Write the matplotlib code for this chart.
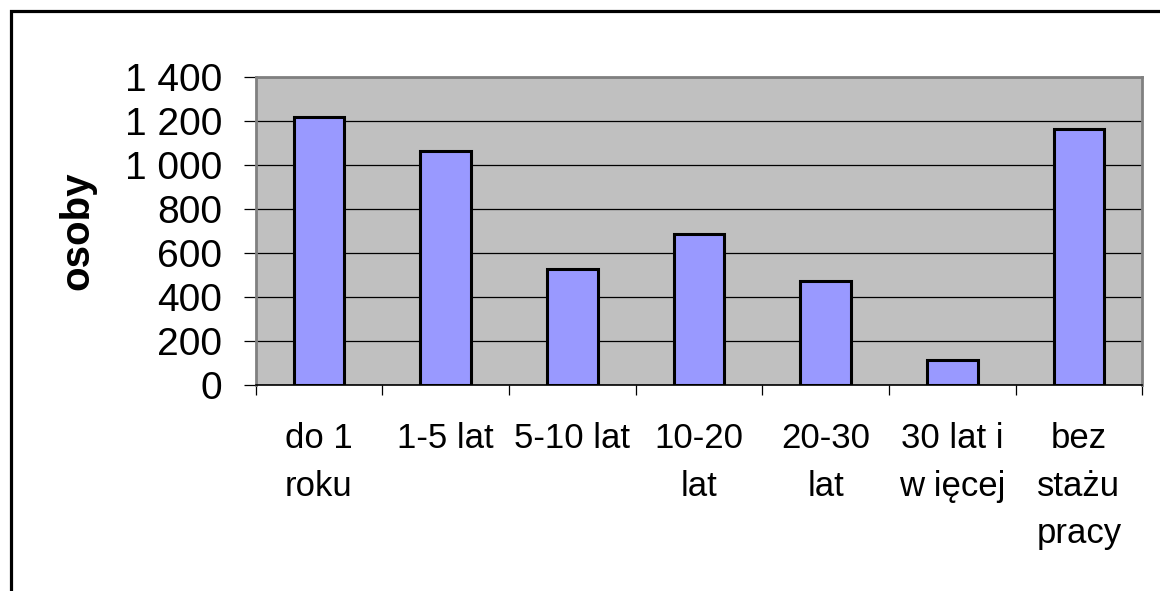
import matplotlib
matplotlib.use("Agg")
import matplotlib.pyplot as plt
from matplotlib.patches import Rectangle
import numpy as np

plt.rcParams['font.family'] = ['Liberation Sans', 'DejaVu Sans']

categories = ["do 1\nroku", "1-5 lat", "5-10 lat", "10-20\nlat", "20-30\nlat", "30 lat i\nw ięcej", "bez\nstażu\npracy"]
values = [1220, 1063, 530, 689, 473, 113, 1165]
yticks = [0, 200, 400, 600, 800, 1000, 1200, 1400]
ytick_labels = ["0", "200", "400", "600", "800", "1 000", "1 200", "1 400"]
ylabel = "osoby"

fig = plt.figure(figsize=(11.6, 5.91), dpi=100)
fig.patch.set_facecolor("white")
ax = fig.add_axes([255.5/1160, 1-385/591, (1142.3-255.5)/1160, (385-77.3)/591])
ax.set_facecolor("#C0C0C0")

x = np.arange(len(categories))
ax.bar(x, values, width=0.4, color="#9999FF", edgecolor="black", linewidth=2.2, zorder=3)

ax.set_xlim(-0.5, len(categories) - 0.5)
ax.set_ylim(0, 1400)
ax.set_yticks(yticks)
ax.set_yticklabels(ytick_labels, fontsize=28)
ax.yaxis.grid(True, color="black", linewidth=0.9, zorder=1)
ax.set_axisbelow(True)

# boundary ticks (major, no labels), labels at centers (minor)
ax.set_xticks(np.arange(-0.5, len(categories) + 0.5, 1.0))
ax.set_xticklabels([])
ax.set_xticks(x, minor=True)
ax.set_xticklabels(categories, minor=True, fontsize=25, linespacing=1.54, va="top")
ax.tick_params(axis="x", which="major", length=7, width=0.9, color="black", direction="out")
ax.tick_params(axis="x", which="minor", length=0, pad=27)
ax.tick_params(axis="y", which="major", length=9, width=0.9, color="black", direction="out", pad=15)

for side in ["top", "right", "left"]:
    ax.spines[side].set_color("#808080")
    ax.spines[side].set_linewidth(2.0)
ax.spines["bottom"].set_color("black")
ax.spines["bottom"].set_linewidth(1.2)

fig.text(77/1160, 1 - 231/591, ylabel, rotation=90, ha="center", va="center",
         fontsize=29, fontweight="bold")

# outer chart border
fig.patches.append(Rectangle((10.7/1160, -0.2), 1.5, 1 - 11.3/591 + 0.2,
                             transform=fig.transFigure, fill=False,
                             edgecolor="black", linewidth=2.3, clip_on=True))

fig.savefig("out.png", dpi=100)
